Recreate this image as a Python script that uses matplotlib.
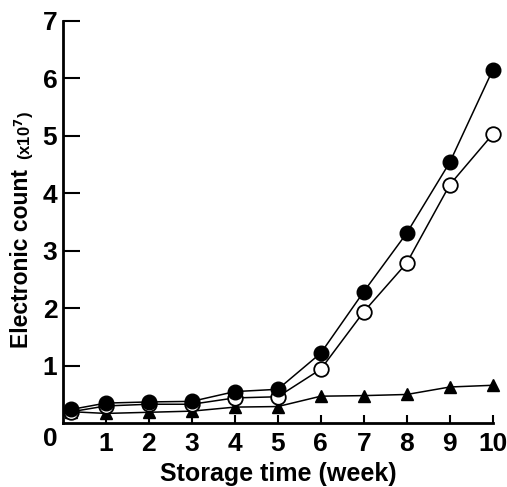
import matplotlib
matplotlib.use("Agg")
import matplotlib.pyplot as plt

plt.rcParams['font.family'] = ['Liberation Sans', 'DejaVu Sans']
plt.rcParams['font.weight'] = 'bold'

weeks = [0.2, 1, 2, 3, 4, 5, 6, 7, 8, 9, 10]
filled_circles = [0.24, 0.35, 0.37, 0.38, 0.55, 0.59, 1.22, 2.29, 3.31, 4.54, 6.15]
open_circles = [0.2, 0.3, 0.33, 0.33, 0.44, 0.46, 0.94, 1.94, 2.79, 4.15, 5.03]
triangles = [0.2, 0.17, 0.19, 0.21, 0.28, 0.29, 0.47, 0.48, 0.5, 0.63, 0.66]

xticks = [1, 2, 3, 4, 5, 6, 7, 8, 9, 10]
yticks = [1, 2, 3, 4, 5, 6, 7]

fig = plt.figure(figsize=(5.07, 4.87), dpi=100)
ax = fig.add_axes([0.124, 0.131, 0.848, 0.826])

ax.plot(weeks, triangles, color='black', lw=1.1, marker='^', ms=9,
        mfc='black', mec='black', clip_on=False, zorder=3)
ax.plot(weeks, open_circles, color='black', lw=1.1, marker='o', ms=10.5,
        mfc='white', mec='black', mew=1.3, clip_on=False, zorder=4)
ax.plot(weeks, filled_circles, color='black', lw=1.1, marker='o', ms=10.5,
        mfc='black', mec='black', clip_on=False, zorder=5)

ax.set_xlim(0, 10)
ax.set_ylim(0, 7)
ax.set_xticks(xticks)
ax.set_yticks(yticks)
ax.set_xticklabels([str(t) for t in xticks], fontsize=19, fontweight='bold')
ax.set_yticklabels([str(t) for t in yticks], fontsize=19, fontweight='bold')
ax.tick_params(axis='y', direction='in', length=12, width=1.5, pad=4)
ax.tick_params(axis='x', direction='in', length=6, width=1.5, pad=6)

for side in ['top', 'right']:
    ax.spines[side].set_visible(False)
for side in ['left', 'bottom']:
    ax.spines[side].set_linewidth(2)

# corner zero label
ax.text(-0.3, -0.06, '0', transform=ax.transData, fontsize=19,
        fontweight='bold', ha='center', va='top')

ax.set_xlabel('Storage time (week)', fontsize=18, fontweight='bold', labelpad=5)

fig.text(22 / 507, 1 - 348 / 487, 'Electronic count', rotation=90,
         rotation_mode='anchor', ha='left', va='center',
         fontsize=16.5, fontweight='bold')
fig.text(24 / 507, 1 - 160 / 487, r'(x10$^7$)', rotation=90,
         rotation_mode='anchor', ha='left', va='center',
         fontsize=12, fontweight='bold')

fig.savefig('out.png', dpi=100)
